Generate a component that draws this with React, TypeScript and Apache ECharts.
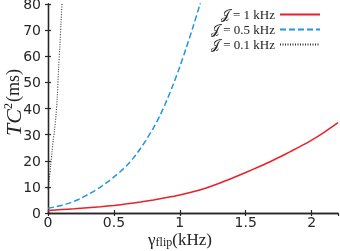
import React, { useEffect, useRef } from "react";
import * as echarts from "echarts";

// gamma_flip (kHz) and TC^2 (ms) for each J
const xRed = [0, 0.1, 0.2, 0.3, 0.4, 0.5, 0.6, 0.7, 0.8, 0.9, 1.0, 1.1, 1.2, 1.3, 1.4, 1.5, 1.6, 1.7, 1.8, 1.9, 2.0, 2.1, 2.2];
const yRed = [1.0, 1.3, 1.6, 2.0, 2.4, 2.9, 3.5, 4.2, 5.0, 5.9, 6.9, 8.1, 9.6, 11.4, 13.4, 15.5, 17.7, 20.0, 22.5, 25.1, 27.9, 31.1, 34.6];

const xBlue = [0, 0.05, 0.1, 0.15, 0.2, 0.25, 0.3, 0.35, 0.4, 0.45, 0.5, 0.55, 0.6, 0.65, 0.7, 0.75, 0.8, 0.85, 0.9, 0.95, 1.0, 1.05, 1.1, 1.15, 1.2];
const yBlue = [1.8, 2.3, 2.9, 3.6, 4.5, 5.6, 7.0, 8.4, 10.0, 11.8, 13.8, 15.9, 18.3, 21.2, 24.6, 28.4, 32.6, 37.4, 43.0, 49.2, 56.0, 63.4, 71.2, 79.4, 88.0];

const xBlack = [0, 0.01, 0.02, 0.03, 0.04, 0.05, 0.06, 0.07, 0.08, 0.09, 0.1, 0.11];
const yBlack = [9, 13, 18, 23, 28, 32, 37, 44, 55, 64, 74, 84];

const seriesNames = ["𝒥 = 1 kHz", "𝒥 = 0.5 kHz", "𝒥 = 0.1 kHz"];
const xTicks = [0, 0.5, 1, 1.5, 2];
const yTicks = [0, 10, 20, 30, 40, 50, 60, 70, 80];

const pairs = (xs: number[], ys: number[]) => xs.map((x, i) => [x, ys[i]]);

const AXIS_COLOR = "#262626";

export default function App() {
  const ref = useRef<HTMLDivElement>(null);
  useEffect(() => {
    if (!ref.current) return;
    const chart = echarts.init(ref.current, undefined, { renderer: "svg" });
    const axisCommon = {
      axisLine: { show: true, lineStyle: { color: AXIS_COLOR, width: 1.3 } },
      axisTick: { show: true, inside: true, length: 3, lineStyle: { color: AXIS_COLOR, width: 1.2 } },
      splitLine: { show: false },
    };
    chart.setOption({
      animation: false,
      grid: { left: 48, right: 2, top: 4, bottom: 38, containLabel: false, outerBoundsMode: "none" },
      legend: {
        orient: "vertical",
        right: 14,
        top: 3,
        align: "right",
        itemWidth: 40,
        itemHeight: 10,
        itemGap: 2,
        data: seriesNames,
        itemStyle: { opacity: 0 },
        textStyle: { fontFamily: "Liberation Serif", fontSize: 13, color: "#222" },
      },
      xAxis: [
        {
          type: "value",
          min: 0,
          max: 2.2,
          interval: 0.5,
          ...axisCommon,
          axisLabel: {
            show: true,
            margin: 2,
            color: AXIS_COLOR,
            fontFamily: "DejaVu Sans",
            fontSize: 14,
            showMaxLabel: false,
            formatter: (v: number) => (xTicks.includes(v) ? String(v) : ""),
          },
          name: "{g|γ}{s|flip}{n|(kHz)}",
          nameLocation: "middle",
          nameGap: 18,
          nameMoveOverlap: false,
          nameTextStyle: {
            padding: [0, 26, 0, 0],
            rich: {
              g: { fontFamily: "Liberation Serif", fontSize: 17, color: "#222" },
              s: { fontFamily: "Liberation Serif", fontSize: 12, color: "#222", verticalAlign: "bottom", padding: [5, 0, 0, 0] },
              n: { fontFamily: "Liberation Serif", fontSize: 17, color: "#222" },
            },
          },
        },
        {
          type: "value",
          position: "top",
          min: 0,
          max: 2.2,
          interval: 0.5,
          ...axisCommon,
          axisLabel: { show: false },
        },
      ],
      yAxis: [
        {
          type: "value",
          min: 0,
          max: 80,
          interval: 10,
          ...axisCommon,
          axisLabel: {
            show: true,
            margin: 7,
            color: AXIS_COLOR,
            fontFamily: "DejaVu Sans",
            fontSize: 14,
            formatter: (v: number) => (yTicks.includes(v) ? String(v) : ""),
          },
          name: "{i|TC}{p|2}{n|(ms)}",
          nameLocation: "middle",
          nameRotate: 90,
          nameGap: 24,
          nameMoveOverlap: false,
          nameTextStyle: {
            padding: [0, 0, 0, 12],
            rich: {
              i: { fontFamily: "Liberation Serif", fontStyle: "italic", fontSize: 22, color: "#222" },
              p: { fontFamily: "Liberation Serif", fontSize: 12, color: "#222", verticalAlign: "top", padding: [0, 1, 9, 0] },
              n: { fontFamily: "Liberation Serif", fontSize: 18, color: "#222" },
            },
          },
        },
        {
          type: "value",
          position: "right",
          min: 0,
          max: 80,
          interval: 10,
          ...axisCommon,
          axisLabel: { show: false },
        },
      ],
      series: [
        {
          name: seriesNames[0],
          type: "line",
          data: pairs(xRed, yRed),
          symbol: "none",
          smooth: 0.3,
          clip: true,
          lineStyle: { color: "#e8202a", width: 1.5, type: "solid" },
          itemStyle: { color: "#e8202a" },
        },
        {
          name: seriesNames[1],
          type: "line",
          data: pairs(xBlue, yBlue),
          symbol: "none",
          smooth: 0.3,
          clip: true,
          lineStyle: { color: "#2196e0", width: 1.5, type: [6, 3] },
          itemStyle: { color: "#2196e0" },
        },
        {
          name: seriesNames[2],
          type: "line",
          data: pairs(xBlack, yBlack),
          symbol: "none",
          smooth: 0.3,
          clip: true,
          lineStyle: { color: "#333333", width: 1.1, type: [1, 1.5] },
          itemStyle: { color: "#333333" },
        },
      ],
    });
    return () => chart.dispose();
  }, []);
  return <div ref={ref} style={{ position: "fixed", left: 0, top: 0, width: 340, height: 251 }} />;
}
